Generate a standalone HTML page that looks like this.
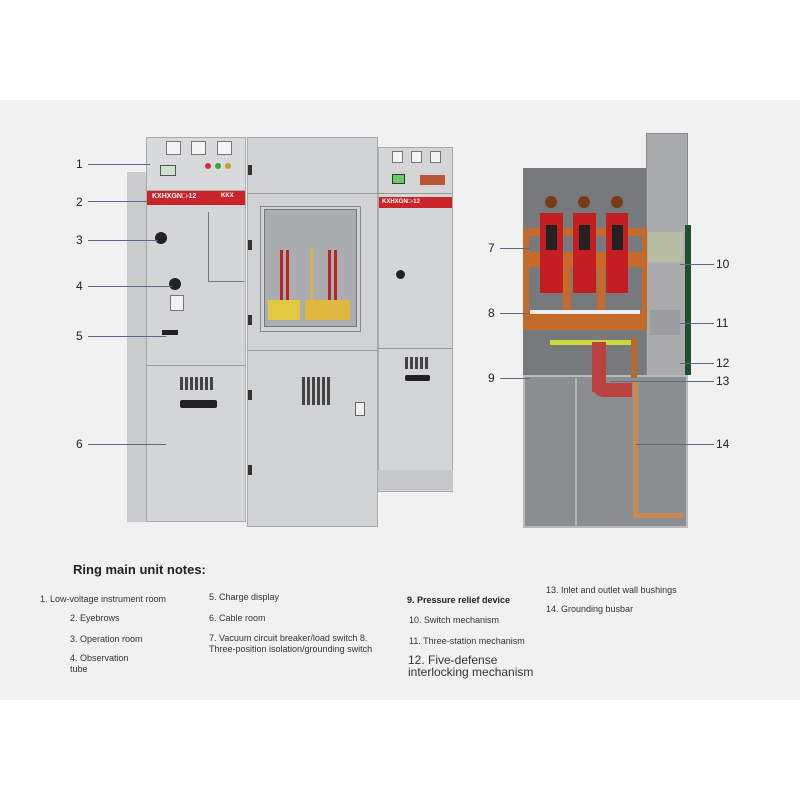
<!DOCTYPE html>
<html><head><meta charset="utf-8"><style>
*{margin:0;padding:0;box-sizing:border-box}
body{width:800px;height:800px;background:#fff;position:relative;overflow:hidden;font-family:"Liberation Sans",sans-serif}
.a{position:absolute}
.t{position:absolute;font-size:9px;color:#333;white-space:nowrap;line-height:11px}
.n{position:absolute;font-size:12px;color:#222}
.ln{position:absolute;height:1px;background:#5a6a8a}
.grid{background:repeating-linear-gradient(90deg,#444 0 3px,transparent 3px 5px),repeating-linear-gradient(0deg,#d0d2d4 0 2px,transparent 2px 5px);background-blend-mode:normal}
</style></head><body>
<div class="a" style="left:0;top:100px;width:800px;height:600px;background:#f1f1f1"></div>

<!-- left cabinet -->
<div class="a" style="left:127px;top:172px;width:21px;height:350px;background:#c9cbcd"></div>
<div class="a" style="left:146px;top:137px;width:100px;height:385px;background:#d3d5d7;border:1px solid #aaa"></div>
<div class="a" style="left:146px;top:137px;width:100px;height:54px;background:#d8dadc;border:1px solid #aaa"></div>
<div class="a" style="left:166px;top:141px;width:15px;height:14px;background:#f4f4f4;border:1px solid #777"></div>
<div class="a" style="left:191px;top:141px;width:15px;height:14px;background:#f4f4f4;border:1px solid #777"></div>
<div class="a" style="left:217px;top:141px;width:15px;height:14px;background:#f4f4f4;border:1px solid #777"></div>
<div class="a" style="left:160px;top:165px;width:16px;height:11px;background:#cfe0cf;border:1px solid #555"></div>
<div class="a" style="left:205px;top:163px;width:6px;height:6px;border-radius:50%;background:#c33"></div>
<div class="a" style="left:215px;top:163px;width:6px;height:6px;border-radius:50%;background:#3a3"></div>
<div class="a" style="left:225px;top:163px;width:6px;height:6px;border-radius:50%;background:#c93"></div>
<div class="a" style="left:147px;top:191px;width:98px;height:14px;background:#c8242a"></div>
<div class="a" style="left:152px;top:193px;font-size:7px;color:#fff;font-weight:bold">KXHXGN□-12</div>
<div class="a" style="left:221px;top:193px;font-size:6px;color:#fff;font-weight:bold">KKX</div>
<div class="a" style="left:208px;top:212px;width:36px;height:70px;border:1px solid #777;border-right:none;border-top:none"></div>
<div class="a" style="left:155px;top:232px;width:12px;height:12px;border-radius:50%;background:#222"></div>
<div class="a" style="left:169px;top:278px;width:12px;height:12px;border-radius:50%;background:#222"></div>
<div class="a" style="left:170px;top:295px;width:14px;height:16px;background:#f2f2f2;border:1px solid #777"></div>
<div class="a" style="left:162px;top:330px;width:16px;height:5px;background:#222"></div>
<div class="a" style="left:147px;top:365px;width:98px;height:1px;background:#999"></div>
<div class="a grid" style="left:180px;top:377px;width:33px;height:13px"></div>
<div class="a" style="left:180px;top:400px;width:37px;height:8px;background:#222;border-radius:2px"></div>

<!-- center cabinet -->
<div class="a" style="left:247px;top:137px;width:131px;height:390px;background:#d0d2d4;border:1px solid #aaa"></div>
<div class="a" style="left:247px;top:193px;width:131px;height:1px;background:#999"></div>
<div class="a" style="left:247px;top:350px;width:131px;height:1px;background:#999"></div>
<div class="a" style="left:260px;top:206px;width:101px;height:126px;border:1px solid #888"></div>
<div class="a" style="left:264px;top:209px;width:93px;height:118px;background:#a9adb0;border:1px solid #777"></div>
<div class="a" style="left:268px;top:300px;width:32px;height:20px;background:#e0c840"></div>
<div class="a" style="left:305px;top:300px;width:45px;height:20px;background:#e0b840"></div>
<div class="a" style="left:280px;top:250px;width:3px;height:50px;background:#b22"></div>
<div class="a" style="left:286px;top:250px;width:3px;height:50px;background:#b22"></div>
<div class="a" style="left:310px;top:248px;width:3px;height:52px;background:#d9b24a"></div>
<div class="a" style="left:328px;top:250px;width:3px;height:50px;background:#b22"></div>
<div class="a" style="left:334px;top:250px;width:3px;height:50px;background:#b22"></div>
<div class="a grid" style="left:302px;top:377px;width:28px;height:28px"></div>
<div class="a" style="left:355px;top:402px;width:10px;height:14px;background:#eee;border:1px solid #666"></div>
<div class="a" style="left:248px;top:140px;width:4px;height:380px;background:repeating-linear-gradient(180deg,transparent 0 25px,#333 25px 35px,transparent 35px 75px)"></div>

<!-- right cabinet -->
<div class="a" style="left:378px;top:147px;width:75px;height:345px;background:#d3d5d7;border:1px solid #aaa"></div>
<div class="a" style="left:378px;top:193px;width:75px;height:1px;background:#999"></div>
<div class="a" style="left:392px;top:151px;width:11px;height:12px;background:#f4f4f4;border:1px solid #777"></div>
<div class="a" style="left:411px;top:151px;width:11px;height:12px;background:#f4f4f4;border:1px solid #777"></div>
<div class="a" style="left:430px;top:151px;width:11px;height:12px;background:#f4f4f4;border:1px solid #777"></div>
<div class="a" style="left:392px;top:174px;width:13px;height:10px;background:#6c6;border:1px solid #333"></div>
<div class="a" style="left:420px;top:175px;width:25px;height:10px;background:#b53"></div>
<div class="a" style="left:379px;top:197px;width:73px;height:11px;background:#c8242a"></div>
<div class="a" style="left:382px;top:199px;font-size:6px;color:#fff;font-weight:bold">KXHXGN□-12</div>
<div class="a" style="left:396px;top:270px;width:9px;height:9px;border-radius:50%;background:#222"></div>
<div class="a" style="left:378px;top:348px;width:75px;height:1px;background:#999"></div>
<div class="a grid" style="left:405px;top:357px;width:25px;height:12px"></div>
<div class="a" style="left:405px;top:375px;width:25px;height:6px;background:#222;border-radius:2px"></div>
<div class="a" style="left:378px;top:470px;width:75px;height:20px;background:#c5c7c9"></div>

<!-- labels left -->
<div class="n" style="left:76px;top:157px">1</div><div class="ln" style="left:88px;top:164px;width:62px"></div>
<div class="n" style="left:76px;top:195px">2</div><div class="ln" style="left:88px;top:201px;width:60px"></div>
<div class="n" style="left:76px;top:233px">3</div><div class="ln" style="left:88px;top:240px;width:70px"></div>
<div class="n" style="left:76px;top:279px">4</div><div class="ln" style="left:88px;top:286px;width:84px"></div>
<div class="n" style="left:76px;top:329px">5</div><div class="ln" style="left:88px;top:336px;width:78px"></div>
<div class="n" style="left:76px;top:437px">6</div><div class="ln" style="left:88px;top:444px;width:78px"></div>

<!-- right diagram -->
<div class="a" style="left:646px;top:133px;width:42px;height:244px;background:#a9abad;border:1px solid #888"></div>
<div class="a" style="left:685px;top:225px;width:6px;height:150px;background:#1f4f2f"></div>
<div class="a" style="left:523px;top:168px;width:123px;height:207px;background:#777a7c"></div>
<div class="a" style="left:523px;top:375px;width:165px;height:153px;background:#8c8e90;border:2px solid #b8babc"></div>
<div class="a" style="left:575px;top:378px;width:2px;height:148px;background:#b0b2b4"></div>
<div class="a" style="left:527px;top:228px;width:118px;height:8px;background:#c46a2a"></div>
<div class="a" style="left:527px;top:252px;width:118px;height:15px;background:#c46a2a"></div>
<div class="a" style="left:527px;top:310px;width:118px;height:20px;background:#c46a2a"></div>
<div class="a" style="left:523px;top:228px;width:6px;height:102px;background:#c46a2a"></div>
<div class="a" style="left:642px;top:228px;width:5px;height:102px;background:#c46a2a"></div>
<div class="a" style="left:563px;top:260px;width:8px;height:55px;background:#c46a2a"></div>
<div class="a" style="left:597px;top:260px;width:8px;height:55px;background:#c46a2a"></div>
<div class="a" style="left:540px;top:213px;width:23px;height:80px;background:#c51e22"></div>
<div class="a" style="left:573px;top:213px;width:23px;height:80px;background:#c51e22"></div>
<div class="a" style="left:606px;top:213px;width:22px;height:80px;background:#c51e22"></div>
<div class="a" style="left:546px;top:225px;width:11px;height:25px;background:#222"></div>
<div class="a" style="left:579px;top:225px;width:11px;height:25px;background:#222"></div>
<div class="a" style="left:612px;top:225px;width:11px;height:25px;background:#222"></div>
<div class="a" style="left:545px;top:196px;width:12px;height:12px;border-radius:50%;background:#7a3a14"></div>
<div class="a" style="left:578px;top:196px;width:12px;height:12px;border-radius:50%;background:#7a3a14"></div>
<div class="a" style="left:611px;top:196px;width:12px;height:12px;border-radius:50%;background:#7a3a14"></div>
<div class="a" style="left:530px;top:310px;width:110px;height:4px;background:#eee"></div>
<div class="a" style="left:550px;top:340px;width:85px;height:5px;background:#cfd83a"></div>
<div class="a" style="left:592px;top:342px;width:14px;height:50px;background:#b9413f"></div>
<div class="a" style="left:592px;top:383px;width:40px;height:14px;background:#b9413f;border-radius:0 0 0 12px"></div>
<div class="a" style="left:633px;top:382px;width:5px;height:135px;background:#c98a55"></div>
<div class="a" style="left:633px;top:513px;width:50px;height:5px;background:#c98a55"></div>
<div class="a" style="left:631px;top:338px;width:6px;height:40px;background:#b56a2a"></div>
<div class="a" style="left:648px;top:232px;width:35px;height:30px;background:#c0c4a0;opacity:.7"></div>
<div class="a" style="left:650px;top:310px;width:30px;height:25px;background:#9a9ca0"></div>

<div class="n" style="left:488px;top:241px">7</div><div class="ln" style="left:500px;top:248px;width:30px"></div>
<div class="n" style="left:488px;top:306px">8</div><div class="ln" style="left:500px;top:313px;width:30px"></div>
<div class="n" style="left:488px;top:371px">9</div><div class="ln" style="left:500px;top:378px;width:30px"></div>
<div class="n" style="left:716px;top:257px">10</div><div class="ln" style="left:680px;top:264px;width:34px"></div>
<div class="n" style="left:716px;top:316px">11</div><div class="ln" style="left:680px;top:323px;width:34px"></div>
<div class="n" style="left:716px;top:356px">12</div><div class="ln" style="left:680px;top:363px;width:34px"></div>
<div class="n" style="left:716px;top:374px">13</div><div class="ln" style="left:610px;top:381px;width:104px"></div>
<div class="n" style="left:716px;top:437px">14</div><div class="ln" style="left:636px;top:444px;width:78px"></div>

<!-- notes -->
<div class="a" style="left:73px;top:562px;font-size:13px;font-weight:bold;color:#222">Ring main unit notes:</div>
<div class="t" style="left:40px;top:594px">1. Low-voltage instrument room</div>
<div class="t" style="left:70px;top:613px">2. Eyebrows</div>
<div class="t" style="left:70px;top:634px">3. Operation room</div>
<div class="t" style="left:70px;top:653px">4. Observation<br>tube</div>
<div class="t" style="left:209px;top:592px">5. Charge display</div>
<div class="t" style="left:209px;top:613px">6. Cable room</div>
<div class="t" style="left:209px;top:633px">7. Vacuum circuit breaker/load switch 8.<br>Three-position isolation/grounding switch</div>
<div class="t" style="left:407px;top:595px;font-weight:bold;color:#222">9. Pressure relief device</div>
<div class="t" style="left:409px;top:615px">10. Switch mechanism</div>
<div class="t" style="left:409px;top:636px">11. Three-station mechanism</div>
<div class="t" style="left:408px;top:654px;font-size:12px;line-height:12px">12. Five-defense<br>interlocking mechanism</div>
<div class="t" style="left:546px;top:585px">13. Inlet and outlet wall bushings</div>
<div class="t" style="left:546px;top:604px">14. Grounding busbar</div>
</body></html>
